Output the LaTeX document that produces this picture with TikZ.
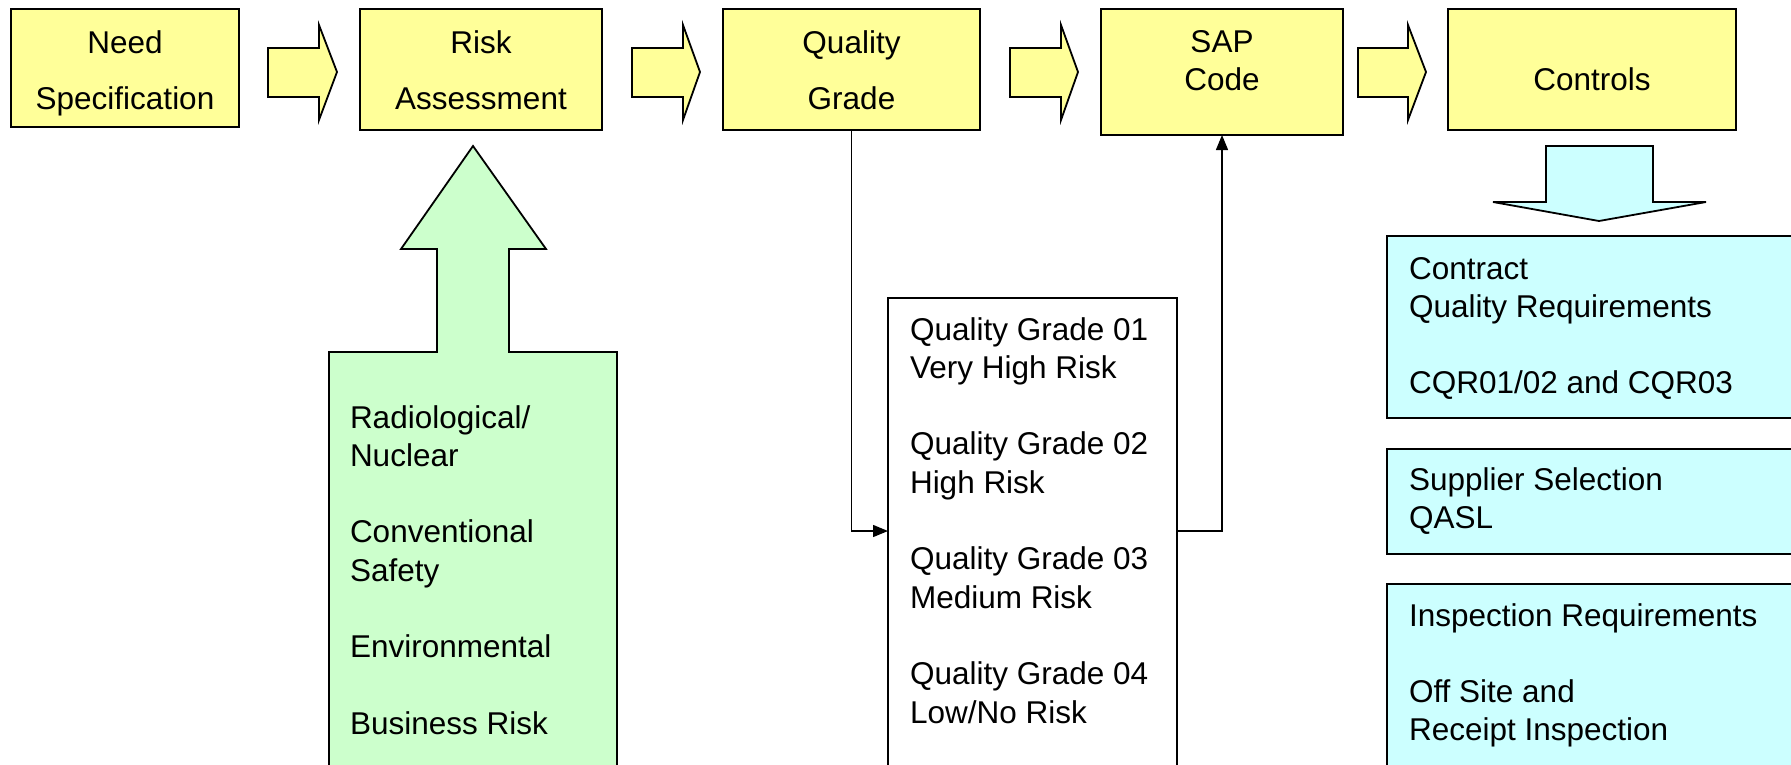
\documentclass[tikz,border=0pt]{standalone}
\usepackage{fontspec}
\setmainfont{Liberation Sans}
\usetikzlibrary{arrows.meta}

\definecolor{boxyellow}{HTML}{FFFF99}
\definecolor{riskgreen}{HTML}{CCFFCC}
\definecolor{ctrlcyan}{HTML}{CCFFFF}

% left-aligned stack of lines whose baseline is the first line
\newcommand{\stack}[1]{\begin{tabular}[t]{@{}l@{}}#1\end{tabular}}

\begin{document}
\begin{tikzpicture}[x=1pt,y=-1pt,
  every node/.style={font=\fontsize{31.5}{38.3}\selectfont},
  shapeline/.style={draw=black,line width=1.8pt,line join=miter},
  topbox/.style={shapeline,fill=boxyellow,rectangle,inner sep=0pt,outer sep=0pt},
  listbox/.style={shapeline,rectangle,inner sep=0pt,outer sep=0pt},
  label/.style={inner sep=0pt,outer sep=0pt},
  stepflow/.style={shapeline,fill=boxyellow},
  conn/.style={draw=black,line width=1.4pt,-{Triangle[length=15pt,width=12pt]}}
]
\useasboundingbox (0,0) rectangle (1791,764);
\clip (0,0) rectangle (1791,764);

% process steps along the top
\node[topbox,minimum width=228pt,minimum height=118pt] (need) at (125,68) {};
\node[topbox,minimum width=242pt,minimum height=121pt] (risk) at (481,69.5) {};
\node[topbox,minimum width=257pt,minimum height=121pt] (qual) at (851.5,69.5) {};
\node[topbox,minimum width=242pt,minimum height=126pt] (sap) at (1222,72) {};
\node[topbox,minimum width=288pt,minimum height=121pt] (ctrl) at (1592,69.5) {};

\node[label,anchor=base] (needA) at (125,53) {Need};
\node[label,anchor=base] (needB) at (125,109) {Specification};
\node[label,anchor=base] (riskA) at (481,53) {Risk};
\node[label,anchor=base] (riskB) at (481,109) {Assessment};
\node[label,anchor=base] (qualA) at (851.5,53) {Quality};
\node[label,anchor=base] (qualB) at (851.5,109) {Grade};
\node[label,anchor=base] (sapA) at (1222,52) {SAP};
\node[label,anchor=base] (sapB) at (1222,90) {Code};
\node[label,anchor=base] (ctrlA) at (1592,90) {Controls};

% block arrows between the steps
\foreach \xa/\xb/\xc in {268/319/337, 632/683/700, 1010/1061/1078, 1358/1408/1426}{
  \draw[stepflow] (\xa,48) -- (\xb,48) -- (\xb,25) -- (\xc,72) -- (\xb,120)
    -- (\xb,97) -- (\xa,97) -- cycle;
}

% risk categories feeding the assessment
\draw[shapeline,fill=riskgreen] (329,800) -- (329,352) -- (437,352) -- (437,249)
  -- (401,249) -- (473,146) -- (546,249) -- (509,249) -- (509,352)
  -- (617,352) -- (617,800) -- cycle;
\node[label,anchor=base west] (cats) at (350,428)
  {\stack{Radiological/\\Nuclear\\ \\Conventional\\Safety\\ \\Environmental\\ \\Business Risk}};

% quality grades
\node[listbox,minimum width=289pt,minimum height=602pt] (grades) at (1032.5,599) {};
\node[label,anchor=base west] (gradetext) at (910,340)
  {\stack{Quality Grade 01\\Very High Risk\\ \\Quality Grade 02\\High Risk\\ \\Quality Grade 03\\Medium Risk\\ \\Quality Grade 04\\Low/No Risk}};
\coordinate (gin) at (888,531);
\coordinate (gout) at (1177,531);
\draw[conn] (qual.south) |- (gin);
\draw[conn] (gout) -| (sap.south);

% controls arising from the code
\draw[shapeline,fill=ctrlcyan] (1546,146) -- (1653,146) -- (1653,202) -- (1706,202)
  -- (1599,221) -- (1493,202) -- (1546,202) -- cycle;
\node[listbox,fill=ctrlcyan,minimum width=513pt,minimum height=182pt] (cqr) at (1643.5,327) {};
\node[listbox,fill=ctrlcyan,minimum width=513pt,minimum height=105pt] (qasl) at (1643.5,501.5) {};
\node[listbox,fill=ctrlcyan,minimum width=513pt,minimum height=316pt] (insp) at (1643.5,742) {};
\node[label,anchor=base west] (cqrtext) at (1409,279)
  {\stack{Contract\\Quality Requirements\\ \\CQR01/02 and CQR03}};
\node[label,anchor=base west] (qasltext) at (1409,490)
  {\stack{Supplier Selection\\QASL}};
\node[label,anchor=base west] (insptext) at (1409,626)
  {\stack{Inspection Requirements\\ \\Off Site and\\Receipt Inspection}};
\end{tikzpicture}
\end{document}
